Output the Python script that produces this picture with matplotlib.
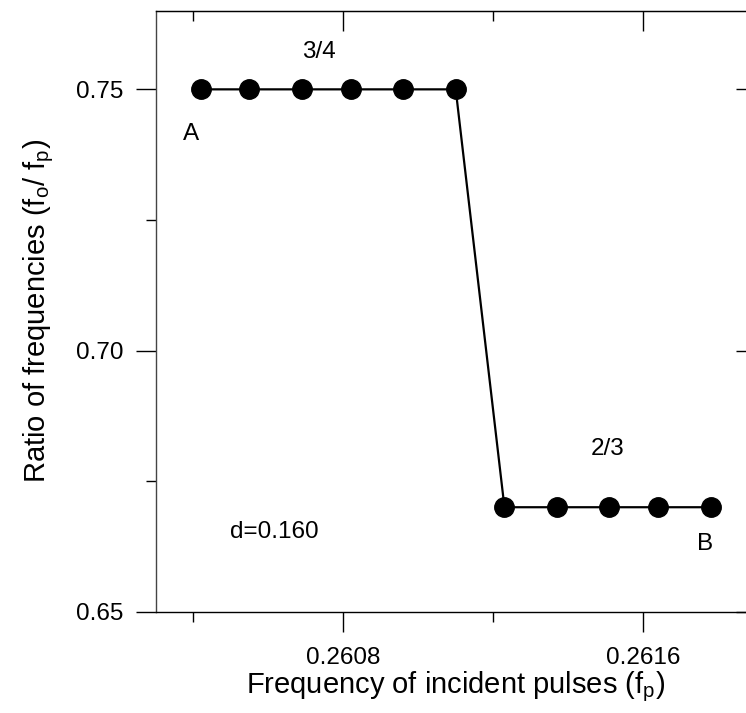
import matplotlib

matplotlib.use("Agg")
import matplotlib.pyplot as plt
from matplotlib.ticker import FixedLocator

plt.rcParams["font.family"] = ["Liberation Sans", "DejaVu Sans"]
plt.rcParams["mathtext.fontset"] = "custom"
plt.rcParams["mathtext.rm"] = "Liberation Sans"

# Datos
freq_pulses = [
    0.26042, 0.26055, 0.26069, 0.26082, 0.26096, 0.26110,
    0.26123, 0.26137, 0.26151, 0.26164, 0.26178,
]
ratio_freq = [
    0.75, 0.75, 0.75, 0.75, 0.75, 0.75,
    0.67, 0.67, 0.67, 0.67, 0.67,
]
x_major = [0.2608, 0.2616]
x_minor = [0.2604, 0.2612]
y_major = [0.65, 0.70, 0.75]
y_minor = [0.675, 0.725]
y_labels = ["0.65", "0.70", "0.75"]
x_labels = ["0.2608", "0.2616"]

W, H = 746, 713
fig = plt.figure(figsize=(W / 100, H / 100), dpi=100)
ax = fig.add_axes([155.7 / W, (H - 611.7) / H, 600 / W, 600.7 / H])

ax.plot(freq_pulses, ratio_freq, color="black", linewidth=1.6,
        marker="o", markersize=14, markerfacecolor="black", zorder=3,
        clip_on=False)

ax.set_xlim(0.2603, 0.2619)
ax.set_ylim(0.65, 0.765)

# Marcas de los ejes (fuera abajo / izquierda)
ax.xaxis.set_major_locator(FixedLocator(x_major))
ax.xaxis.set_minor_locator(FixedLocator(x_minor))
ax.yaxis.set_major_locator(FixedLocator(y_major))
ax.yaxis.set_minor_locator(FixedLocator(y_minor))
ax.set_xticklabels(x_labels)
ax.set_yticklabels(y_labels)
ax.tick_params(which="major", direction="out", length=14.5, width=1,
               labelsize=17.5, top=False, right=False)
ax.tick_params(axis="y", which="major", pad=9)
ax.tick_params(axis="x", which="major", pad=11)
ax.tick_params(which="minor", direction="out", length=7.2, width=1,
               top=False, right=False)

# Marcas interiores arriba y a la derecha
top = ax.secondary_xaxis("top")
top.xaxis.set_major_locator(FixedLocator(x_major))
top.xaxis.set_minor_locator(FixedLocator(x_minor))
top.tick_params(which="major", direction="in", length=14.5, width=1, labeltop=False)
top.tick_params(which="minor", direction="in", length=7.2, width=1)
right = ax.secondary_yaxis("right")
right.yaxis.set_major_locator(FixedLocator(y_major))
right.yaxis.set_minor_locator(FixedLocator(y_minor))
right.tick_params(which="major", direction="in", length=14.5, width=1, labelright=False)
right.tick_params(which="minor", direction="in", length=7.2, width=1)

for s in ax.spines.values():
    s.set_linewidth(1)
ax.spines["left"].set_color("#444444")
top.spines["top"].set_color("#444444")

ax.set_xlabel("Frequency of incident pulses (f$_\\mathregular{p}$)", fontsize=21, labelpad=0)
ax.set_ylabel("Ratio of frequencies (f$_\\mathregular{o}$/ f$_\\mathregular{p}$)", fontsize=21, labelpad=14)

ax.text(0.260735, 0.7572, "3/4", fontsize=17.5, ha="center", va="center")
ax.text(0.260393, 0.74144, "A", fontsize=17.5, ha="center", va="center")
ax.text(0.261506, 0.68114, "2/3", fontsize=17.5, ha="center", va="center")
ax.text(0.261764, 0.66296, "B", fontsize=17.5, ha="center", va="center")
ax.text(0.260616, 0.66526, "d=0.160", fontsize=17.5, ha="center", va="center")

plt.savefig("out.png", dpi=100)
plt.close()
